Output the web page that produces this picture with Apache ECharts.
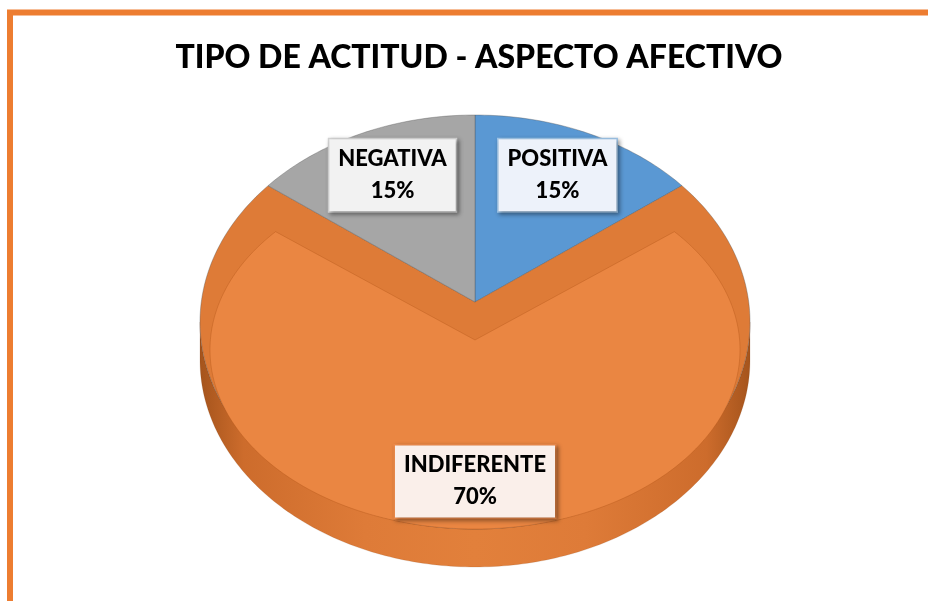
<!DOCTYPE html>
<html>
<head>
    <meta charset="utf-8">
    <title>ECharts</title>
    <script src="https://cdn.jsdelivr.net/npm/echarts@6/dist/echarts.min.js"></script>
    <style>
        html, body { margin: 0; padding: 0; background: #fff; }
    </style>
</head>
<body>
    <div id="main" style="width: 928px;height:601px;"></div>
    <script type="text/javascript">
        // datos
        var categories = ['POSITIVA', 'INDIFERENTE', 'NEGATIVA'];
        var values = [15, 70, 15];

        // estilos por sector
        var faceColors = ['#5E9CD7', '#EA8642', '#A9A9A9'];
        var bevelColors = ['#5A98D3', '#DE7B37', '#A6A6A6'];
        var labelFills = ['#EDF2FA', '#FAEFEA', '#F2F2F2'];
        var labelBorders = ['#9DC3E6', '#EE8A4A', '#D3D3D3'];

        // geometria de la "tarta 3D"
        var CX = 475, CY = 322, RX = 275, RY = 207, DEPTH = 38, TILT = 0.83;
        var total = values.reduce(function (a, b) { return a + b; }, 0);

        function proj(t) {
            if (t >= Math.PI * 2 - 1e-9) return Math.PI * 2;
            var p = Math.atan2(TILT * Math.sin(t), Math.cos(t));
            if (p < 0) p += Math.PI * 2;
            return p;
        }
        function ell(p, cx, cy, rx, ry) {
            return [cx + rx * Math.sin(p), cy - ry * Math.cos(p)];
        }
        function arc(p0, p1, cx, cy, rx, ry) {
            var pts = [];
            var n = Math.max(2, Math.ceil((p1 - p0) / (Math.PI / 180)) + 1);
            for (var k = 0; k < n; k++) {
                pts.push(ell(p0 + (p1 - p0) * k / (n - 1), cx, cy, rx, ry));
            }
            return pts;
        }

        var sideGradient = new echarts.graphic.LinearGradient(0, 0, 1, 0, [
            { offset: 0, color: '#A5541C' },
            { offset: 0.08, color: '#CD6C2C' },
            { offset: 0.3, color: '#DE7B38' },
            { offset: 0.5, color: '#E2803B' },
            { offset: 0.7, color: '#DE7B38' },
            { offset: 0.92, color: '#CD6C2C' },
            { offset: 1, color: '#A5541C' }
        ]);

        function renderItem(params, api) {
            var i = params.dataIndex;
            var before = 0;
            for (var j = 0; j < i; j++) before += values[j];
            var t0 = before / total * Math.PI * 2;
            var t1 = (before + values[i]) / total * Math.PI * 2;
            var p0 = proj(t0), p1 = proj(t1);
            var children = [];

            // pared lateral (solo la mitad delantera)
            var s0 = Math.max(p0, Math.PI / 2), s1 = Math.min(p1, Math.PI * 1.5);
            if (s1 > s0) {
                var top = arc(s0, s1, CX, CY, RX, RY);
                var bottom = top.map(function (q) { return [q[0], q[1] + DEPTH]; }).reverse();
                children.push({
                    type: 'polygon', z2: 0,
                    shape: { points: top.concat(bottom) },
                    style: { fill: sideGradient, stroke: 'rgba(120,60,20,0.25)', lineWidth: 0.6 }
                });
            }

            // cara superior
            var apex = [CX, CY - 20];
            children.push({
                type: 'polygon', z2: 1,
                shape: { points: [apex].concat(arc(p0, p1, CX, CY, RX, RY)) },
                style: { fill: bevelColors[i], stroke: 'rgba(80,80,80,0.45)', lineWidth: 0.8 }
            });
            if (values[i] / total > 0.5) {
                // bisel interior del sector grande
                var ry2 = RY * 0.866, cy2 = CY + RY - ry2;
                children.push({
                    type: 'polygon', z2: 2,
                    shape: { points: [[CX, CY + 18]].concat(arc(p0, p1, CX, cy2, RX - 10, ry2)) },
                    style: { fill: faceColors[i], stroke: 'rgba(170,80,20,0.4)', lineWidth: 0.8 }
                });
            }

            // etiqueta
            var pm = proj((t0 + t1) / 2);
            var lp = ell(pm, CX, CY, RX * 0.77, RY * 0.77);
            var pct = Math.round(values[i] / total * 100) + '%';
            children.push({
                type: 'text', z2: 10,
                style: {
                    x: lp[0], y: lp[1],
                    text: categories[i] + '\n' + pct,
                    align: 'center', verticalAlign: 'middle',
                    font: '900 22px Lato, "Liberation Sans", sans-serif',
                    lineHeight: 32,
                    fill: '#000',
                    backgroundColor: labelFills[i],
                    borderColor: labelBorders[i],
                    borderWidth: 1.5,
                    padding: [5, 9, 3, 9],
                    shadowColor: 'rgba(0,0,0,0.35)',
                    shadowBlur: 4,
                    shadowOffsetX: 2,
                    shadowOffsetY: 2
                }
            });
            return { type: 'group', children: children };
        }

        var myChart = echarts.init(document.getElementById('main'));
        var option = {
            animation: false,
            title: {
                text: 'TIPO DE ACTITUD - ASPECTO AFECTIVO',
                left: 474,
                top: 37,
                textAlign: 'center',
                textStyle: {
                    fontFamily: 'Lato',
                    fontWeight: 900,
                    fontSize: 32,
                    color: '#000'
                }
            },
            graphic: [{
                type: 'rect',
                shape: { x: 10, y: 12.5, width: 1000, height: 1000 },
                style: { fill: 'none', stroke: '#ED7D31', lineWidth: 6 },
                silent: true
            }],
            series: [{
                type: 'custom',
                coordinateSystem: 'none',
                renderItem: renderItem,
                data: values
            }]
        };
        myChart.setOption(option);
    </script>
</body>
</html>
